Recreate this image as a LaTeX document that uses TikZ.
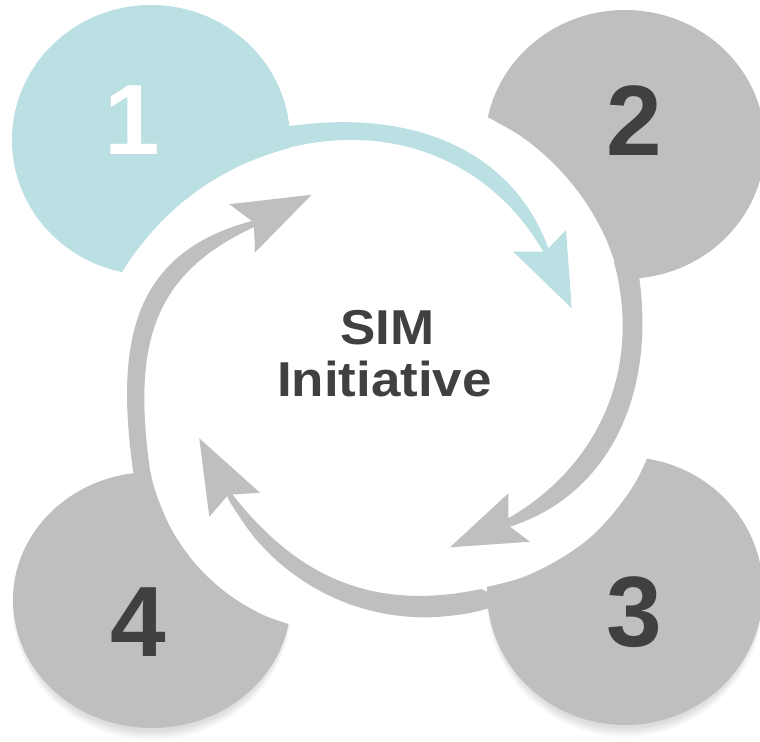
\documentclass[tikz,border=0pt]{standalone}
\usepackage{fontspec}
\setmainfont{Liberation Sans}
\newfontfamily\stretchfont[FakeStretch=1.08]{Liberation Sans}
\usetikzlibrary{shapes.geometric}
\definecolor{tealc}{HTML}{BBE0E3}
\definecolor{grayc}{HTML}{BFBFBF}
\definecolor{textc}{HTML}{404040}
\tikzset{
  blob/.style={ellipse, inner sep=0pt, outer sep=0pt, draw=none},
  digitlabel/.style={inner sep=0pt, anchor=base, font=\fontsize{50}{60}\selectfont\bfseries},
  titletext/.style={inner sep=0pt, anchor=base, text=textc, font=\stretchfont\fontsize{24.5}{28}\selectfont\bfseries},
  softline/.style={smooth, tension=0.55},
  shadowfill/.style={fill=black, opacity=0.02},
}
\begin{document}
\begin{tikzpicture}[x=0.5pt, y=-0.5pt]
\useasboundingbox (0,0) rectangle (760,741);
\clip (0,0) rectangle (760,741);

% soft shadows under the lower circles
\foreach \k in {0,...,6}{
  \path[shadowfill] (625,597) ellipse [x radius={(134+0.8*\k)*0.5pt}, y radius={(131+1.5*\k)*0.5pt}];
  \path[shadowfill] (152,606) ellipse [x radius={(135+0.8*\k)*0.5pt}, y radius={(125+1.5*\k)*0.5pt}];
}

% circles
\node[blob, fill=tealc, minimum width=139pt, minimum height=135pt] (c1) at (151,140) {};
\node[blob, fill=grayc, minimum width=140pt, minimum height=134.4pt] (c2) at (625,144.4) {};
\node[blob, fill=grayc, minimum width=138pt, minimum height=134pt] (c3) at (625,591) {};
\node[blob, fill=grayc, minimum width=139pt, minimum height=128pt] (c4) at (152,600) {};

% white cut-out around the centre
\fill[white]
  plot[softline] coordinates {(115,284.8) (132.4,256.4) (163,220) (199.4,189.4) (240.6,165.6) (285.3,149.3) (332.2,141) (379.8,141)}
  -- plot[softline] coordinates {(479.1,112.7) (521,136.4) (554.5,164.5) (582.6,198) (604.5,235.9) (619.4,277) (624.9,302.7)}
  -- plot[softline] coordinates {(652.5,445.6) (636.2,480.8) (614.1,512.1) (587.9,539.3) (555.4,561.4) (520.4,578) (483.2,587.6)}
  -- (430,598)
  -- plot[softline] coordinates {(302.7,628.3) (262.8,614.6) (226.7,592.9) (195.9,564.2) (171.8,529.7) (155.3,490.9) (148.5,460) (146.6,439)}
  -- cycle;

% band 1 (teal)
\fill[tealc] (272,133) -- (290,126)
  .. controls (418.7,107.9) and (514.1,154.3) .. (548.3,248.3)
  -- (566,230) -- (571.7,308.3) -- (513.3,251.7) -- (543.3,251.7)
  .. controls (488.3,156.4) and (387,123.3) .. (290,147.5)
  -- cycle;

% band 2
\fill[grayc] (628,262) -- (639.3,278.3)
  .. controls (654.6,387.2) and (614.6,492.7) .. (510,526.7)
  -- (530,541.7) -- (450,547.3) -- (508.3,493.3) -- (508.3,518.3)
  .. controls (599.2,465.8) and (642.5,368.3) .. (614,262)
  -- cycle;

% band 3
\fill[grayc] (505,600) -- (486.9,608.8)
  -- plot[softline] coordinates {(486.9,608.8) (464.1,614) (425.4,617.4) (386.7,614) (349.1,604) (313.9,587.5) (282.1,565.2) (254.6,537.7) (232.3,505.9) (227.3,496)}
  -- (209.3,516.7) -- (199.3,438.3) -- (260,492.7) -- (232.5,494.5)
  .. controls (297.2,577.2) and (373.4,611.9) .. (481,589)
  -- cycle;

% band 4
\fill[grayc] (150,480) -- (133.3,472.3)
  .. controls (115.2,343.6) and (131,253.4) .. (251.7,221)
  -- (229.5,204.2) -- (311.7,194.7) -- (255,252.5) -- (254,227)
  .. controls (154.3,273.5) and (131.9,341.3) .. (150,470)
  -- cycle;

% numbers
\node[digitlabel, text=white] (d1) at (132,154) {1};
\node[digitlabel, text=textc] (d2) at (634.6,155) {2};
\node[digitlabel, text=textc] (d3) at (634.4,646) {3};
\node[digitlabel, text=textc] (d4) at (138,656) {4};

% centre text
\node[titletext] (sim) at (387.7,344.3) {SIM};
\node[titletext] (init) at (384.4,396.7) {Initiative};
\end{tikzpicture}
\end{document}
